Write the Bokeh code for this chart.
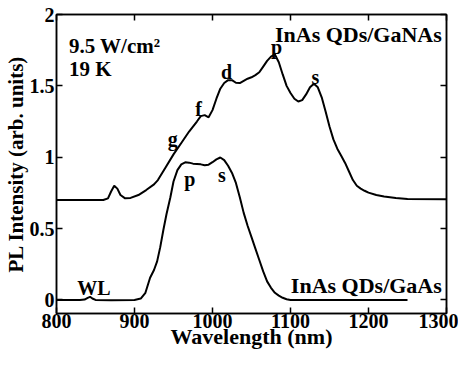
from bokeh.plotting import figure
from bokeh.models import Range1d, LinearAxis, FixedTicker, ColumnDataSource
from bokeh.core.properties import value
from bokeh.embed import file_html
from bokeh.resources import INLINE

# ---- data ----
x_ticks = [800, 900, 1000, 1100, 1200, 1300]
y_ticks = [0, 0.5, 1, 1.5, 2]
y_tick_labels = ["0", "0.5", "1", "1.5", "2"]

gaas_wl = [800, 830, 836, 840, 843, 846, 850, 870, 900, 908, 914, 920, 925, 929, 933, 937,
           941, 946, 950, 955, 960, 965, 970, 975, 980, 985, 990, 995, 1000, 1005, 1010,
           1015, 1020, 1025, 1030, 1035, 1040, 1045, 1050, 1055, 1060, 1065, 1070, 1075,
           1080, 1085, 1090, 1095, 1100, 1150, 1200, 1250]
gaas_pl = [0.0, 0.0, 0.003, 0.015, 0.022, 0.01, 0.0, -0.002, 0.0, 0.01, 0.05, 0.155, 0.21, 0.27, 0.37, 0.49,
           0.6, 0.72, 0.83, 0.91, 0.95, 0.964, 0.962, 0.955, 0.953, 0.95, 0.944, 0.948, 0.965, 0.985, 0.998,
           0.98, 0.94, 0.89, 0.82, 0.72, 0.61, 0.52, 0.44, 0.36, 0.28, 0.2, 0.13, 0.085,
           0.05, 0.03, 0.015, 0.005, 0.0, 0.0, 0.0, 0.0]

ganas_wl = [800, 860, 866, 870, 874, 878, 882, 888, 895, 905, 915, 925, 930, 940, 950, 960,
            970, 980, 985, 990, 995, 1000, 1005, 1010, 1015, 1020, 1025, 1030, 1035, 1040,
            1045, 1050, 1055, 1060, 1065, 1070, 1075, 1080, 1085, 1090, 1095, 1100, 1105,
            1110, 1115, 1120, 1125, 1130, 1135, 1140, 1145, 1150, 1155, 1160, 1165, 1170,
            1175, 1180, 1185, 1190, 1195, 1200, 1210, 1220, 1235, 1250, 1300]
ganas_pl = [0.7, 0.7, 0.712, 0.76, 0.8, 0.78, 0.735, 0.712, 0.715, 0.735, 0.77, 0.81, 0.84, 0.93, 1.02, 1.1,
            1.18, 1.25, 1.288, 1.295, 1.28, 1.33, 1.41, 1.48, 1.52, 1.54, 1.54, 1.522, 1.52, 1.535,
            1.55, 1.56, 1.575, 1.595, 1.635, 1.675, 1.705, 1.72, 1.665, 1.58, 1.5, 1.45, 1.41,
            1.39, 1.4, 1.44, 1.49, 1.515, 1.49, 1.42, 1.32, 1.215, 1.125, 1.06, 1.01, 0.96,
            0.9, 0.84, 0.8, 0.78, 0.765, 0.752, 0.735, 0.725, 0.715, 0.708, 0.705]

peak_labels = ["g", "f", "d", "p", "s", "p", "s", "WL"]
peak_x = [949, 982, 1018, 1082, 1132, 971, 1012, 848]
peak_y = [1.125, 1.34, 1.60, 1.77, 1.56, 0.85, 0.875, 0.082]

FONT = "Liberation Serif"

p = figure(width=458, height=351, output_backend="svg", toolbar_location=None,
           x_range=Range1d(800, 1300), y_range=Range1d(-0.095, 2.0),
           min_border_left=2, min_border_right=12, min_border_top=14, min_border_bottom=0)

p.xgrid.visible = False
p.ygrid.visible = False
p.background_fill_color = "white"
p.border_fill_color = "white"
p.outline_line_color = "black"
p.outline_line_width = 1.5

p.line(gaas_wl, gaas_pl, line_color="black", line_width=2)
p.line(ganas_wl, ganas_pl, line_color="black", line_width=2)

src = ColumnDataSource(dict(x=peak_x, y=peak_y, t=peak_labels))
p.text(x="x", y="y", text="t", source=src, text_font=value(FONT), text_font_style="bold",
       text_font_size="20px", text_align="center", text_baseline="alphabetic", text_color="black")

p.text(x=[816], y=[1.777], text=["9.5 W/cm²"], text_font=value(FONT), text_font_style="bold",
       text_font_size="21px", text_align="left", text_baseline="alphabetic")
p.text(x=[816], y=[1.615], text=["19 K"], text_font=value(FONT), text_font_style="bold",
       text_font_size="21px", text_align="left", text_baseline="alphabetic")
p.text(x=[1294], y=[1.858], text=["InAs QDs/GaNAs"], text_font=value(FONT), text_font_style="bold",
       text_font_size="22px", text_align="right", text_baseline="alphabetic")
p.text(x=[1294], y=[0.10], text=["InAs QDs/GaAs"], text_font=value(FONT), text_font_style="bold",
       text_font_size="22px", text_align="right", text_baseline="alphabetic")


def style_axis(ax, ticks, labels=True):
    ax.ticker = FixedTicker(ticks=ticks)
    ax.axis_line_color = "black"
    ax.axis_line_width = 1.5
    ax.major_tick_in = 6
    ax.major_tick_out = 0
    ax.major_tick_line_width = 1.5
    ax.minor_tick_line_color = None
    ax.major_label_text_font = FONT
    ax.major_label_text_font_style = "bold"
    ax.major_label_text_color = "black"
    ax.major_label_text_font_size = "20px"
    ax.axis_label_text_font = FONT
    ax.axis_label_text_font_style = "bold"
    ax.axis_label_text_font_size = "21px"
    ax.axis_label_text_color = "black"
    if labels:
        ax.major_label_standoff = 2
        ax.axis_label_standoff = -4
    else:
        ax.major_label_overrides = {t: "" for t in ticks}
        ax.major_label_standoff = 0
        ax.axis_label_standoff = 0


xa = p.xaxis[0]
xa.axis_label = "Wavelength (nm)"
style_axis(xa, x_ticks)
xa.axis_label_text_font_size = "22px"
xa.major_label_standoff = 0
xa.axis_label_standoff = -7

ya = p.yaxis[0]
ya.axis_label = "PL Intensity (arb. units)"
style_axis(ya, y_ticks)
ya.axis_label_standoff = -1
ya.major_label_overrides = {t: l for t, l in zip(y_ticks, y_tick_labels)}

top = LinearAxis()
style_axis(top, x_ticks, labels=False)
p.add_layout(top, "above")

right = LinearAxis()
style_axis(right, y_ticks, labels=False)
p.add_layout(right, "right")

open("out.html", "w").write(file_html(p, INLINE))
